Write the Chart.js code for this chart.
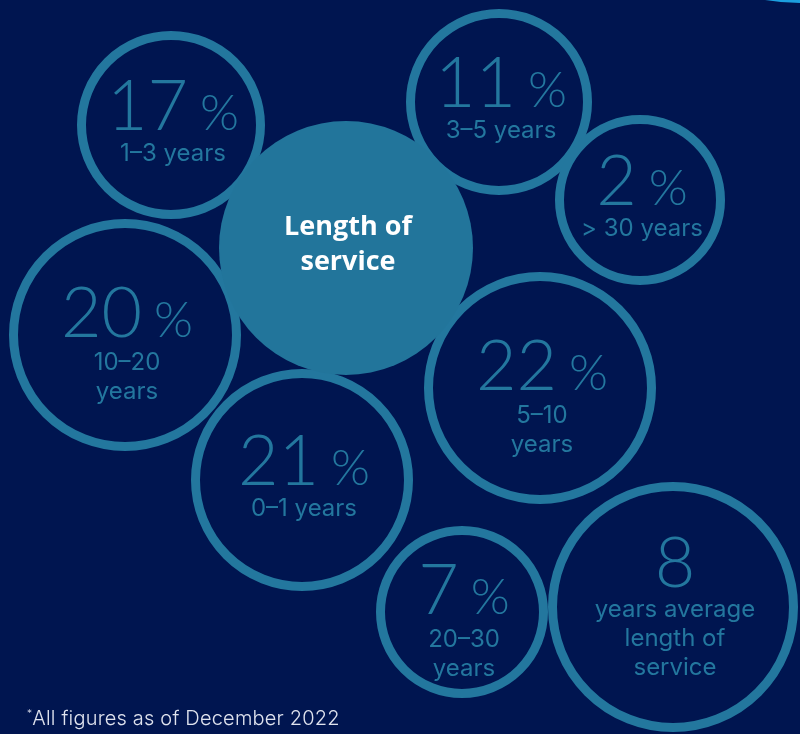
<!DOCTYPE html>
<html>
<head>
<meta charset="utf-8">
<script src="https://cdn.jsdelivr.net/npm/chart.js@4.4.1/dist/chart.umd.min.js"></script>
<style>
  html, body { margin: 0; padding: 0; background: #001550; }
  #wrap { position: relative; width: 800px; height: 734px; overflow: hidden; }
  #note { position: absolute; left: 27px; top: 706px; font: 300 20px Inter, sans-serif;
    color: #dfe3ee; white-space: nowrap; letter-spacing: 0.2px; }
  #note sup { font-size: 10px; vertical-align: 8px; }
</style>
</head>
<body>
<div id="wrap">
  <canvas id="chart"></canvas>
  <div id="note"><sup>*</sup>All figures as of December 2022</div>
</div>
<script>
// Length of service — share of staff per band, drawn as a packed bubble layout.

const categories = [["1–3 years"], ["3–5 years"], ["> 30 years"], ["10–20", "years"],
  ["5–10", "years"], ["0–1 years"], ["20–30", "years"]];
const shares = [17, 11, 2, 20, 22, 21, 7];
const avgYears = 8;
const avgLabel = ["years average", "length of", "service"];
const title = ["Length of", "service"];

// bubble layout (canvas units, outer radius incl. ring)
const bubbleX = [171, 499, 640, 125, 540, 302, 462];
const bubbleY = [125, 102, 200, 335, 388, 480, 612];
const bubbleR = [94, 93, 85, 116, 116, 111, 86];
const avgPos = { x: 673, y: 607, r: 125 };
const titlePos = { x: 346, y: 248, r: 127 };
const decorPos = { x: 800, y: -201, r: 204 };

const TEAL = "#23779e";
const RING = 9;

const pts = shares.map((_, i) => ({ x: bubbleX[i], y: bubbleY[i], r: bubbleR[i] - RING / 2 }));
pts.push({ x: avgPos.x, y: avgPos.y, r: avgPos.r - RING / 2 });

const labelPlugin = {
  id: "bubbleText",
  afterDatasetsDraw(chart) {
    const ctx = chart.ctx;
    ctx.save();
    ctx.textBaseline = "alphabetic";

    // centre title
    const t = chart.getDatasetMeta(0).data[0];
    ctx.fillStyle = "#ffffff";
    ctx.textAlign = "center";
    ctx.font = "bold 27px 'Open Sans', sans-serif";
    ctx.fillText(title[0], t.x + 2, t.y - 13);
    ctx.fillText(title[1], t.x + 2, t.y + 22);

    const rings = chart.getDatasetMeta(1).data;
    ctx.fillStyle = TEAL;
    rings.forEach((el, i) => {
      const cx = el.x + 2;
      const isAvg = i === shares.length;
      const lines = isAvg ? avgLabel : categories[i];
      const num = String(isAvg ? avgYears : shares[i]);
      let base, first;
      if (isAvg) { base = el.y - 20; first = el.y + 10; }
      else if (lines.length === 1) { base = el.y + 5; first = el.y + 36; }
      else { base = el.y + 2; first = el.y + 35; }

      ctx.font = "300 70px Lato, sans-serif";
      const wNum = ctx.measureText(num).width;
      if (isAvg) {
        ctx.textAlign = "center";
        ctx.fillText(num, cx, base);
      } else {
        ctx.font = "300 50px Lato, sans-serif";
        const wPct = ctx.measureText("%").width;
        const gap = 12;
        const x0 = cx - (wNum + gap + wPct) / 2;
        ctx.textAlign = "left";
        ctx.font = "300 70px Lato, sans-serif";
        ctx.fillText(num, x0, base);
        ctx.font = "300 50px Lato, sans-serif";
        ctx.fillText("%", x0 + wNum + gap, base);
      }

      ctx.textAlign = "center";
      ctx.font = "24px Inter, sans-serif";
      lines.forEach((s, k) => ctx.fillText(s, cx, first + k * 29));
    });
    ctx.restore();
  },
};

new Chart(document.getElementById("chart"), {
  type: "bubble",
  data: {
    datasets: [
      { data: [{ x: titlePos.x, y: titlePos.y, r: titlePos.r }],
        backgroundColor: "#22759b", borderWidth: 0 },
      { data: pts, backgroundColor: "rgba(0,0,0,0)", borderColor: TEAL, borderWidth: RING },
      { data: [{ x: decorPos.x, y: decorPos.y, r: decorPos.r }],
        backgroundColor: "#1c9fdf", borderWidth: 0 },
    ],
  },
  options: {
    responsive: true, maintainAspectRatio: false, animation: false, events: [],
    layout: { padding: 0, autoPadding: false },
    scales: {
      x: { type: "linear", min: 0, max: 800, display: false },
      y: { type: "linear", min: 0, max: 734, reverse: true, display: false },
    },
    plugins: { legend: { display: false }, tooltip: { enabled: false } },
  },
  plugins: [labelPlugin],
});
</script>
</body>
</html>
